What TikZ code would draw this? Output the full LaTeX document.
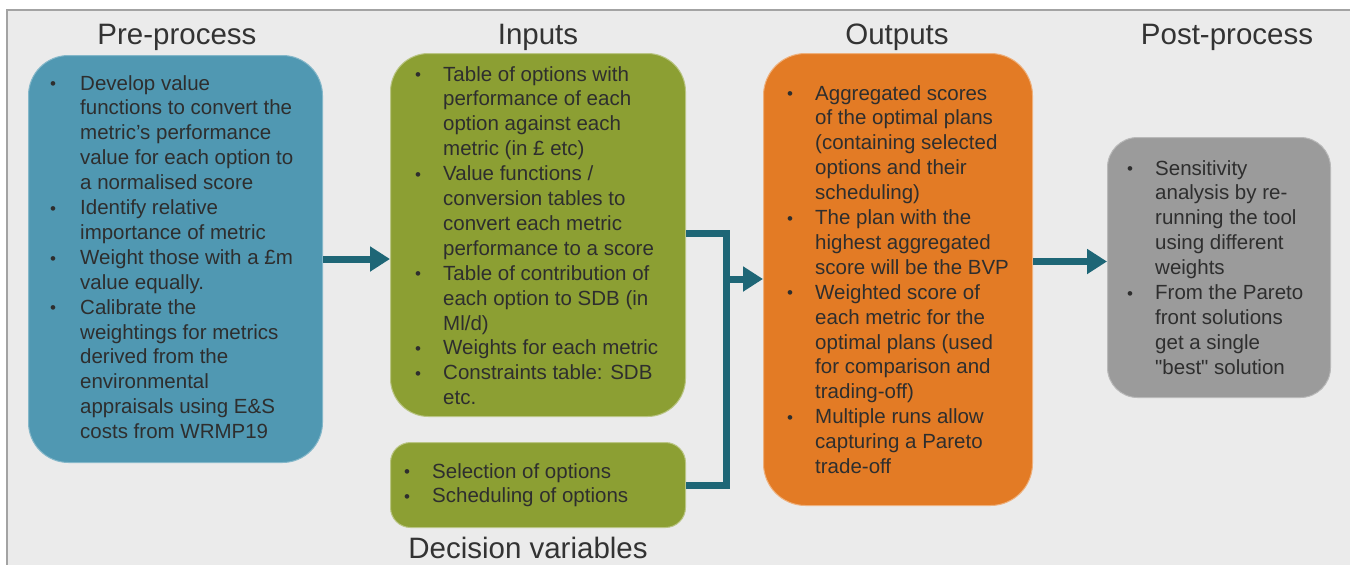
\documentclass[tikz,border=0pt]{standalone}
\usepackage{fontspec}
\setmainfont{Liberation Sans}
% same face without the TeX quote mapping, for straight quotes
\newfontfamily\plainquote{Liberation Sans}
\usetikzlibrary{arrows.meta,calc}

\definecolor{pagebg}{HTML}{EBEBEB}
\definecolor{frameline}{HTML}{A3A3A3}
\definecolor{preblue}{HTML}{5098B2}
\definecolor{inolive}{HTML}{8C9F33}
\definecolor{outorange}{HTML}{E37B25}
\definecolor{postgrey}{HTML}{9B9B9B}
\definecolor{linkteal}{HTML}{1E6676}
\definecolor{bodytext}{HTML}{2E2E2E}
\definecolor{titletext}{HTML}{333333}

% small list bullet
\newcommand\bul{\raisebox{0.3pt}{\fontsize{17}{17}\selectfont\textbullet}}
\newcommand\sq{{\plainquote\char34}}

\tikzset{
  panel/.style={rectangle, anchor=north west, inner sep=0pt, line width=1pt},
  heading/.style={anchor=base, inner sep=0pt, text=titletext,
    font=\fontsize{29.5}{34}\selectfont},
  bodytxt/.style={anchor=base west, inner sep=0pt, text=bodytext,
    font=\fontsize{20.5}{24.9}\selectfont},
  link/.style={draw=linkteal, line width=7pt},
  linkarrow/.style={link, -{Triangle[length=20pt,width=24pt]}},
}

\begin{document}
\begin{tikzpicture}[x=1pt,y=-1pt]
  \useasboundingbox (0,0) rectangle (1350,565);
  % page background and frame
  \fill[pagebg] (7,10) rectangle (1350,565);
  \draw[frameline, line width=2pt] (7,565) -- (7,10) -- (1350,10);

  % headings
  \node[heading] (hpre)  at (177,44)  {Pre-process};
  \node[heading] (hin)   at (538,44)  {Inputs};
  \node[heading] (hout)  at (897,44)  {Outputs};
  \node[heading] (hpost) at (1227,44) {Post-process};
  \node[heading] (hdec)  at (528,558) {Decision variables};

  % panels
  \node[panel, fill=preblue, draw=preblue!70!white, rounded corners=40pt,
        minimum width=294pt, minimum height=407pt] (pre) at (28,55) {};
  \node[panel, fill=inolive, draw=inolive!60!white, rounded corners=38pt,
        minimum width=295pt, minimum height=363pt] (inputs) at (390,53) {};
  \node[panel, fill=inolive, draw=inolive!60!white, rounded corners=20pt,
        minimum width=295pt, minimum height=85pt] (decision) at (390,442) {};
  \node[panel, fill=outorange, draw=outorange!60!white, rounded corners=42pt,
        minimum width=269pt, minimum height=452pt] (outputs) at (763,53) {};
  \node[panel, fill=postgrey, draw=postgrey!70!white, rounded corners=30pt,
        minimum width=223pt, minimum height=260pt] (post) at (1107,137) {};

  % panel texts
  \node[bodytxt] (tpre) at (50,90) {\begin{tabular}[t]{@{}p{30pt}@{}l@{}}
    \bul & Develop value\\
         & functions to convert the\\
         & metric's performance\\
         & value for each option to\\
         & a normalised score\\
    \bul & Identify relative\\
         & importance of metric\\
    \bul & Weight those with a £m\\
         & value equally.\\
    \bul & Calibrate the\\
         & weightings for metrics\\
         & derived from the\\
         & environmental\\
         & appraisals using E\&S\\
         & costs from WRMP19
  \end{tabular}};

  \node[bodytxt] (tin) at (415,81) {\begin{tabular}[t]{@{}p{28pt}@{}l@{}}
    \bul & Table of options with\\
         & performance of each\\
         & option against each\\
         & metric (in £ etc)\\
    \bul & Value functions /\\
         & conversion tables to\\
         & convert each metric\\
         & performance to a score\\
    \bul & Table of contribution of\\
         & each option to SDB (in\\
         & Ml/d)\\
    \bul & Weights for each metric\\
    \bul & Constraints table: SDB\\
         & etc.
  \end{tabular}};

  \node[bodytxt] (tdec) at (404,478) {\begin{tabular}[t]{@{}p{28pt}@{}l@{}}
    \bul & Selection of options\\
    \bul & Scheduling of options
  \end{tabular}};

  \node[bodytxt] (tout) at (787,100) {\begin{tabular}[t]{@{}p{28pt}@{}l@{}}
    \bul & Aggregated scores\\
         & of the optimal plans\\
         & (containing selected\\
         & options and their\\
         & scheduling)\\
    \bul & The plan with the\\
         & highest aggregated\\
         & score will be the BVP\\
    \bul & Weighted score of\\
         & each metric for the\\
         & optimal plans (used\\
         & for comparison and\\
         & trading-off)\\
    \bul & Multiple runs allow\\
         & capturing a Pareto\\
         & trade-off
  \end{tabular}};

  \node[bodytxt] (tpost) at (1127,175) {\begin{tabular}[t]{@{}p{28pt}@{}l@{}}
    \bul & Sensitivity\\
         & analysis by re-\\
         & running the tool\\
         & using different\\
         & weights\\
    \bul & From the Pareto\\
         & front solutions\\
         & get a single\\
         & \sq best\sq{} solution
  \end{tabular}};

  % connectors
  \coordinate (jtop) at (726,233);
  \coordinate (jbot) at (726,485);
  \coordinate (jmid) at (726,279);
  \draw[linkarrow] (pre.east) -- (pre.east -| inputs.west);
  \draw[link, line cap=butt] (inputs.east |- jtop) -- (jtop) -- (jbot)
        -- (decision.east |- jbot);
  \draw[linkarrow] (jmid) -- (jmid -| outputs.west);
  \draw[linkarrow] ([yshift=6pt]outputs.east |- post.west)
        -- ([yshift=6pt]post.west);
\end{tikzpicture}
\end{document}
